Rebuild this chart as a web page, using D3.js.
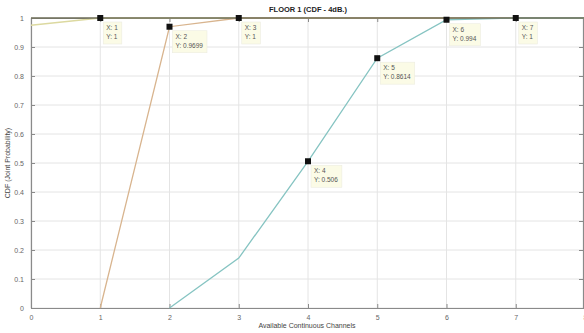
<!DOCTYPE html>
<html>
<head>
<meta charset="utf-8">
<script src="https://cdn.jsdelivr.net/npm/d3@7"></script>
<style>
  html, body { margin: 0; padding: 0; background: #fff; }
  svg { display: block; font-family: "Liberation Sans", Arial, sans-serif; }
</style>
</head>
<body>
<svg id="chart" width="584" height="333"></svg>
<script>
// Channel counts on the x axis
const xTicks = [0, 1, 2, 3, 4, 5, 6, 7, 8];
const yTicks = [0, 0.1, 0.2, 0.3, 0.4, 0.5, 0.6, 0.7, 0.8, 0.9, 1];

// CDF curves (x, y pairs)
const seriesA_x = [0, 1, 2, 3, 4, 5, 6, 7, 8];
const seriesA_y = [0.975, 1, 1, 1, 1, 1, 1, 1, 1];
const seriesB_x = [1, 2, 3, 4, 5, 6, 7, 8];
const seriesB_y = [0, 0.9699, 1, 1, 1, 1, 1, 1];
const seriesC_x = [2, 3, 4, 5, 6, 7, 8];
const seriesC_y = [0, 0.172, 0.506, 0.8614, 0.994, 1, 1];

// Data tips
const tipX = [1, 2, 3, 4, 5, 6, 7];
const tipY = [1, 0.9699, 1, 0.506, 0.8614, 0.994, 1];

const svg = d3.select("#chart");
const mLeft = 31, mRight = 585, mTop = 18, mBottom = 308;

const x = d3.scaleLinear().domain([0, 8]).range([mLeft, mRight]);
const y = d3.scaleLinear().domain([0, 1]).range([mBottom, mTop]);

// grid
const grid = svg.append("g");
grid.selectAll("line.gx").data(xTicks).join("line")
  .attr("x1", d => x(d)).attr("x2", d => x(d))
  .attr("y1", mTop).attr("y2", mBottom)
  .attr("stroke", "#e4e4e4").attr("stroke-width", 1);
grid.selectAll("line.gy").data(yTicks).join("line")
  .attr("x1", mLeft).attr("x2", mRight)
  .attr("y1", d => y(d)).attr("y2", d => y(d))
  .attr("stroke", "#e4e4e4").attr("stroke-width", 1);

// axes
const axisColor = "#8a8a8a";
const xAxis = svg.append("g").attr("transform", `translate(0,${mBottom})`)
  .call(d3.axisBottom(x).tickValues(xTicks).tickFormat(d3.format("d")).tickSizeInner(-4).tickSizeOuter(0).tickPadding(7));
const xTop = svg.append("g").attr("transform", `translate(0,${mTop})`)
  .call(d3.axisTop(x).tickValues(xTicks).tickFormat("").tickSizeInner(-4).tickSizeOuter(0));
const yAxis = svg.append("g").attr("transform", `translate(${mLeft},0)`)
  .call(d3.axisLeft(y).tickValues(yTicks).tickFormat(d => d === 0 || d === 1 ? d3.format("d")(d) : d3.format(".1f")(d)).tickSizeInner(-4).tickSizeOuter(0).tickPadding(7));
const yRight = svg.append("g").attr("transform", `translate(${mRight - 2},0)`)
  .call(d3.axisRight(y).tickValues(yTicks).tickFormat("").tickSizeInner(-4).tickSizeOuter(0));
[xAxis, xTop, yAxis, yRight].forEach(g => {
  g.selectAll("path").attr("stroke", axisColor).attr("stroke-width", 1.2);
  g.selectAll("line").attr("stroke", axisColor);
  g.selectAll("text").attr("fill", "#666").attr("font-size", 7);
});

// curves
const line = d3.line().x(d => x(d[0])).y(d => y(d[1]));
const curves = [
  { xs: seriesA_x, ys: seriesA_y, color: "#dcd9a0" },
  { xs: seriesB_x, ys: seriesB_y, color: "#d8b48e" },
  { xs: seriesC_x, ys: seriesC_y, color: "#86c4c2" }
];
curves.forEach(c => {
  svg.append("path")
    .datum(c.xs.map((v, i) => [v, c.ys[i]]))
    .attr("d", line)
    .attr("fill", "none")
    .attr("stroke", c.color)
    .attr("stroke-width", 1.3);
});

// top border drawn over the curves at y = 1
svg.append("line").attr("x1", mLeft).attr("x2", mRight).attr("y1", mTop).attr("y2", mTop)
  .attr("stroke", "#6f6f5a").attr("stroke-width", 1.4);

// data tips
const tips = svg.append("g");
tipX.forEach((vx, i) => {
  const vy = tipY[i];
  const px = x(vx), py = y(vy);
  const g = tips.append("g");
  const t1 = g.append("text").attr("x", px + 6).attr("y", py + 12).text("X: " + vx)
    .attr("font-size", 6.5).attr("fill", "#555");
  const t2 = g.append("text").attr("x", px + 6).attr("y", py + 21).text("Y: " + vy)
    .attr("font-size", 6.5).attr("fill", "#555");
  const w = Math.max(t1.node().getComputedTextLength(), t2.node().getComputedTextLength());
  g.insert("rect", "text")
    .attr("x", px + 3).attr("y", py + 4)
    .attr("width", w + 7).attr("height", 22)
    .attr("fill", "#fbfbe6").attr("stroke", "#ecece0").attr("stroke-width", 0.6);
  svg.append("rect").attr("x", px - 3).attr("y", py - 3).attr("width", 6).attr("height", 6)
    .attr("fill", "#111");
});

// title and axis labels
svg.append("text").attr("x", (mLeft + mRight) / 2).attr("y", 12).attr("text-anchor", "middle")
  .attr("font-size", 7.5).attr("font-weight", "bold").attr("fill", "#222")
  .text("FLOOR 1 (CDF - 4dB.)");
svg.append("text").attr("x", (mLeft + mRight) / 2 - 1).attr("y", 328).attr("text-anchor", "middle")
  .attr("font-size", 7).attr("fill", "#444")
  .text("Available Continuous Channels");
svg.append("text").attr("transform", `translate(10,${(mTop + mBottom) / 2}) rotate(-90)`)
  .attr("text-anchor", "middle").attr("font-size", 7).attr("fill", "#444")
  .text("CDF (Joint Probability)");
</script>
</body>
</html>
